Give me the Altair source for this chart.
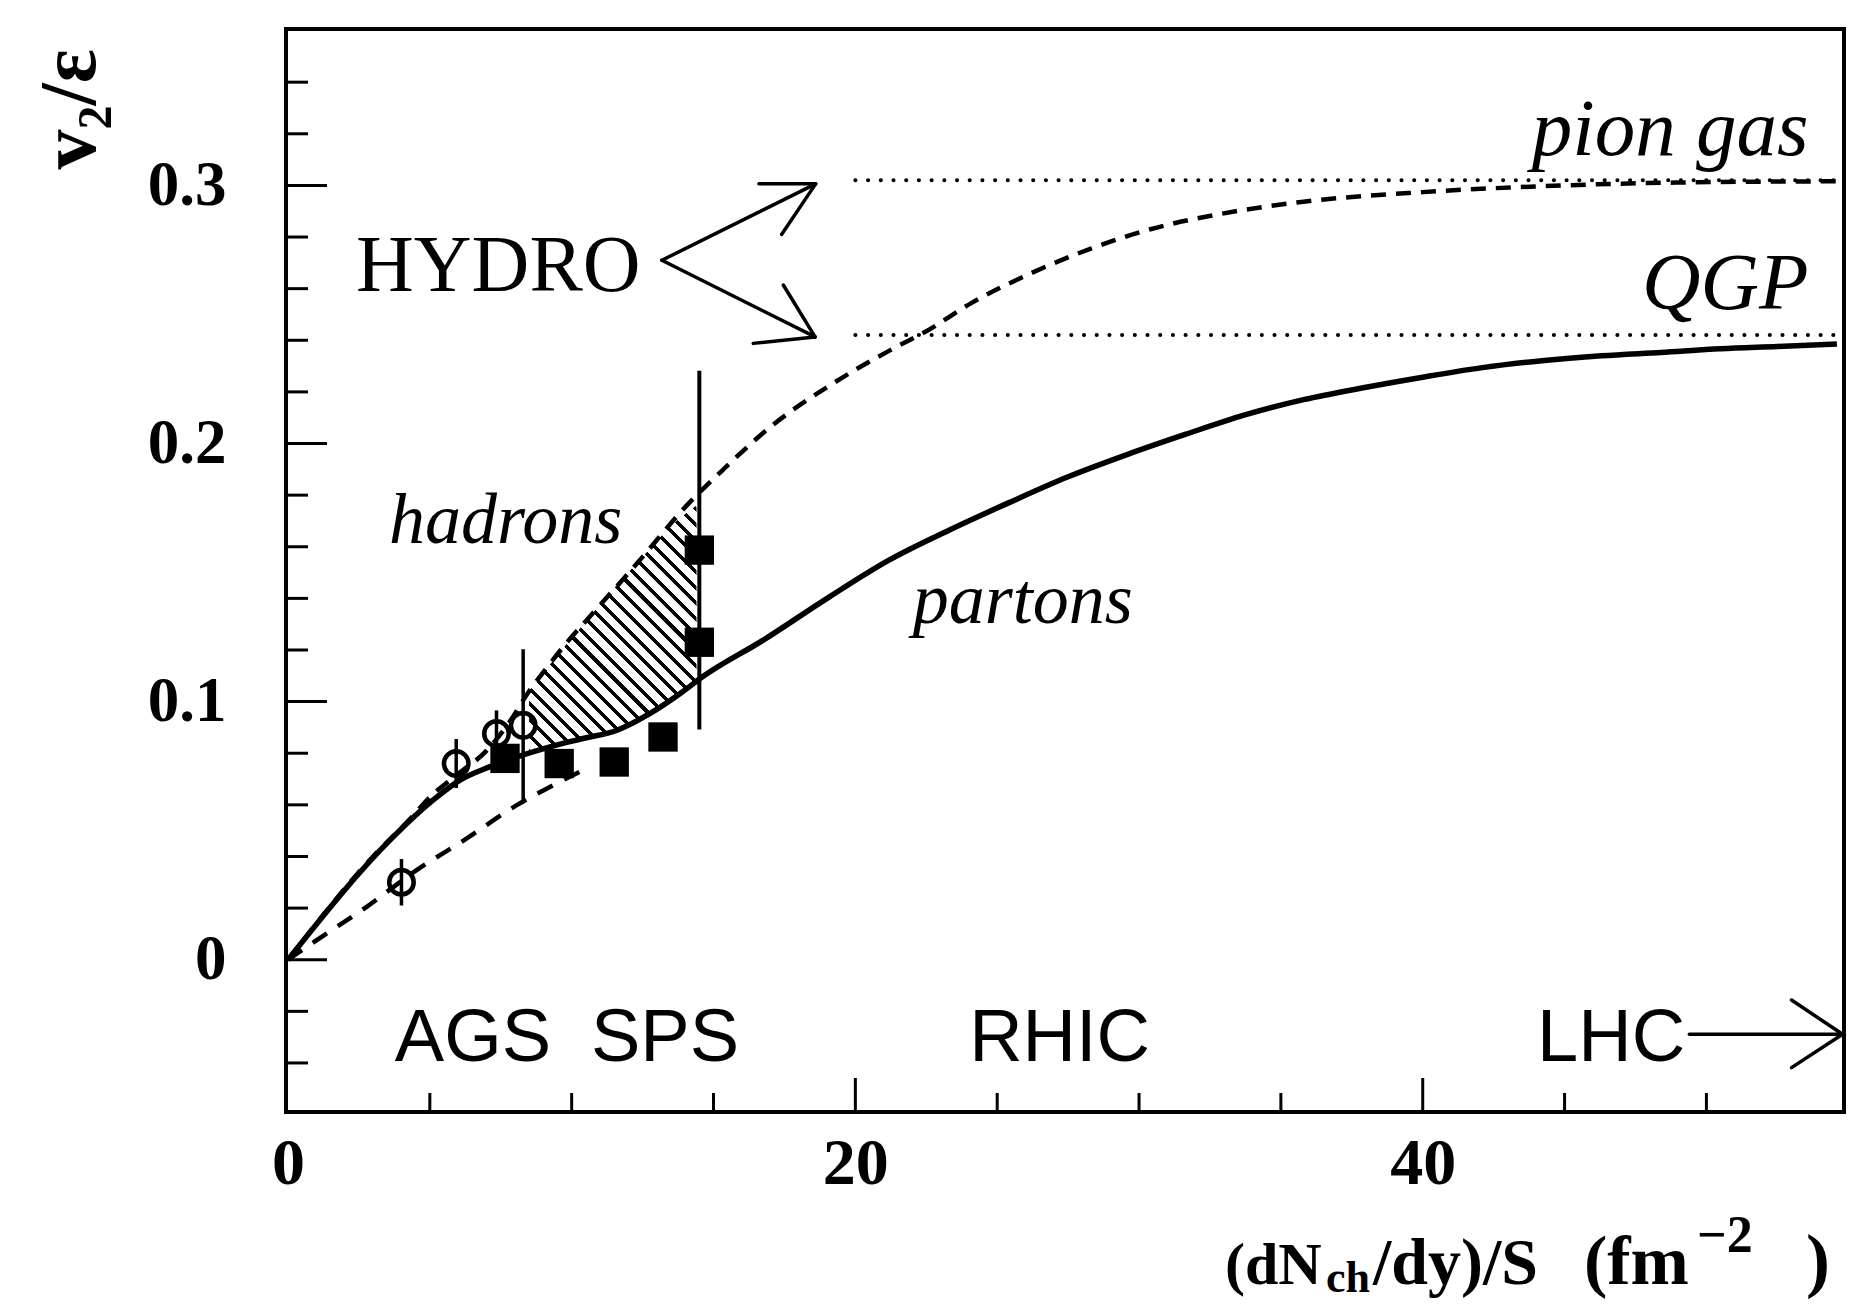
import altair as alt
import pandas as pd

# ---------------- data ----------------
# solid curve "partons"
partons_x = [0, 3.7, 5.1, 6.05, 7.1, 8.05, 9.2, 10.4, 11.6, 12.75, 13.9, 14.6, 16.75, 19.1, 21.2,
             23.3, 25.4, 27.5, 29.6, 31.65, 33.7, 35.8, 37.9, 40.0, 42.1, 44.2, 46.3, 48.4, 50.5, 52.5, 54.6]
partons_y = [0, 0.0475, 0.0617, 0.0695, 0.0747, 0.0785, 0.0824, 0.0857, 0.0889, 0.0953, 0.1037, 0.1095,
             0.1238, 0.1407, 0.1549, 0.1664, 0.177, 0.1871, 0.1958, 0.2036, 0.211, 0.217, 0.2216, 0.2257,
             0.2294, 0.2321, 0.234, 0.2353, 0.2367, 0.2376, 0.2386]

# dashed curve "hadrons" (upper)
hadrons_x = [0, 3.0, 4.3, 5.0, 6.0, 7.0, 7.8, 8.5, 9.1, 9.8, 10.4, 12.3, 14.1, 15.35, 17.0, 19.1, 21.2,
             22.5, 24.1, 26.2, 28.3, 30.4, 32.9, 35.8, 40.0, 44.2, 48.4, 54.6]
hadrons_y = [0, 0.040, 0.0545, 0.063, 0.072, 0.081, 0.092, 0.104, 0.1128, 0.1225, 0.130, 0.1535, 0.1765,
             0.190, 0.2064, 0.2225, 0.236, 0.2435, 0.2545, 0.266, 0.2755, 0.283, 0.289, 0.2937, 0.2974,
             0.2997, 0.301, 0.3016]

# lower dashed curve
low_x = [0, 1.0, 2.76, 4.52, 6.29, 8.05, 9.0, 10.5]
low_y = [0, 0.0075, 0.0204, 0.0346, 0.0469, 0.0598, 0.0656, 0.074]

# hatched band between the curves
hatch_x = [8.5, 9.5, 10.5, 11.5, 12.5, 13.5, 14.4]
hatch_top = [0.104, 0.118, 0.131, 0.144, 0.156, 0.168, 0.176]
hatch_bottom = [0.080, 0.0832, 0.086, 0.0884, 0.0939, 0.1007, 0.1078]

# hydro limits
hydro_names = ["pion gas", "QGP"]
hydro_y = [0.302, 0.242]
hydro_x_start = [20, 20]
hydro_x_end = [54.8, 54.8]

# open circles (AGS)
circ_x = [4.0, 5.93, 7.35, 8.29]
circ_y = [0.030, 0.076, 0.0876, 0.0908]
circ_err = [0.009, 0.0095, 0.009, 0.0295]

# filled squares (SPS)
sq_x = [7.65, 9.56, 11.5, 13.22, 14.5, 14.5]
sq_y = [0.078, 0.076, 0.0766, 0.0863, 0.123, 0.1587]
sq_err = [0, 0, 0, 0, 0, 0.0695]

# axis ticks and labels
x_tick_labels = [0, 20, 40]
y_tick_labels = [0, 0.1, 0.2, 0.3]
x_major_ticks = [20, 40]
x_minor_ticks = [5, 10, 15, 25, 30, 35, 45, 50]
y_major_ticks = [0, 0.1, 0.2, 0.3]
y_minor_ticks = [-0.04, -0.02, 0.02, 0.04, 0.06, 0.08, 0.12, 0.14, 0.16, 0.18,
                 0.22, 0.24, 0.26, 0.28, 0.32, 0.34]

# annotation arrows (data coordinates)
arrow_x1 = [13.18, 18.6, 18.6, 13.18, 18.58, 18.58, 49.4, 53.0, 53.0]
arrow_y1 = [0.271, 0.3006, 0.3006, 0.271, 0.2413, 0.2413, -0.0289, -0.0156, -0.0418]
arrow_x2 = [18.6, 16.6, 17.4, 18.58, 16.4, 17.46, 54.8, 54.8, 54.8]
arrow_y2 = [0.3006, 0.3006, 0.281, 0.2413, 0.2388, 0.2614, -0.0289, -0.0289, -0.0289]

# text labels
machine_names = ["AGS", "SPS", "RHIC"]
machine_x = [6.52, 13.29, 27.2]
machine_y = [-0.0394, -0.0394, -0.0394]
lhc_label = ["LHC"]
lhc_x = [49.25]
lhc_y = [-0.0394]
curve_names = ["hadrons", "partons"]
curve_x = [7.67, 25.9]
curve_y = [0.1614, 0.1306]
limit_names = ["pion gas", "QGP"]
limit_x = [53.6, 53.6]
limit_y = [0.3118, 0.2523]
hydro_label = ["HYDRO"]
hydro_lx = [2.4]
hydro_ly = [0.2592]

# ---------------- layout ----------------
W, H = 1558, 1083
XDOM = [-0.07, 54.85]
YDOM = [-0.059, 0.3606]
SERIF = "Liberation Serif"
SANS = "Liberation Sans"

xs = alt.Scale(domain=XDOM, nice=False, zero=False)
ys = alt.Scale(domain=YDOM, nice=False, zero=False)

x_axis = alt.Axis(
    values=x_tick_labels, format="d", labelFont=SERIF, labelFontWeight="bold",
    labelFontSize=66, labelColor="black", ticks=False, tickSize=0, domain=False,
    grid=False, labelPadding=19, title=None, labelFlush=False)
y_axis = alt.Axis(
    values=y_tick_labels, labelExpr="datum.value == 0 ? '0' : format(datum.value, '.1f')",
    labelFont=SERIF, labelFontWeight="bold", labelFontSize=63, labelColor="black",
    ticks=False, tickSize=0, domain=False, grid=False, labelPadding=60, labelFlush=False,
    title="v₂/ε", titleAngle=270, titleX=-192, titleY=140, titleAlign="left",
    titleBaseline="alphabetic", titleFont=SERIF, titleFontSize=80, titleFontWeight="bold",
    titleColor="black")


def X(f="x"):
    return alt.X(f"{f}:Q", scale=xs, axis=x_axis)


def Y(f="y"):
    return alt.Y(f"{f}:Q", scale=ys, axis=y_axis)


# hatching via striped gradient
px_per_x = W / (XDOM[1] - XDOM[0])
px_per_y = H / (YDOM[1] - YDOM[0])
Wb = (hatch_x[-1] - hatch_x[0]) * px_per_x
Hb = (max(hatch_top) - min(hatch_bottom)) * px_per_y
period = 15.5
N = int(round((Wb * Wb + Hb * Hb) / (Wb * period)))
frac = 0.32
stops = []
for i in range(N):
    a = i / N
    b = (i + frac) / N
    c = (i + 1) / N
    stops += [alt.GradientStop(color="black", offset=a), alt.GradientStop(color="black", offset=b),
              alt.GradientStop(color="rgba(255,255,255,0)", offset=b),
              alt.GradientStop(color="rgba(255,255,255,0)", offset=c)]
grad = alt.LinearGradient(gradient="linear", stops=stops, x1=0, y1=1, x2=1, y2=1 - Hb / Wb)

hatch = alt.Chart(pd.DataFrame({"x": hatch_x, "top": hatch_top, "bot": hatch_bottom})).mark_area(
    color=grad, interpolate="monotone").encode(x=X(), y=Y("top"), y2="bot:Q")

partons = alt.Chart(pd.DataFrame({"x": partons_x, "y": partons_y})).mark_line(
    color="black", strokeWidth=5.5, interpolate="monotone").encode(x=X(), y=Y())

hadrons = alt.Chart(pd.DataFrame({"x": hadrons_x, "y": hadrons_y})).mark_line(
    color="black", strokeWidth=4.5, strokeDash=[15, 10], interpolate="monotone").encode(x=X(), y=Y())

lower = alt.Chart(pd.DataFrame({"x": low_x, "y": low_y})).mark_line(
    color="black", strokeWidth=4.5, strokeDash=[17, 13], interpolate="monotone").encode(x=X(), y=Y())

limits = alt.Chart(pd.DataFrame({"name": hydro_names, "y": hydro_y, "x": hydro_x_start,
                                 "x2": hydro_x_end})).mark_rule(
    color="black", strokeWidth=4, strokeDash=[0.1, 12.6], strokeCap="round").encode(
    x=X(), x2="x2:Q", y=Y())

circ_df = pd.DataFrame({"x": circ_x, "y": circ_y, "err": circ_err})
circ_df["lo"] = circ_df["y"] - circ_df["err"]
circ_df["hi"] = circ_df["y"] + circ_df["err"]
circ_bars = alt.Chart(circ_df).mark_rule(color="black", strokeWidth=3.5).encode(
    x=X(), y=Y("lo"), y2="hi:Q")
circles = alt.Chart(circ_df).mark_point(shape="circle", filled=False, size=600, color="black",
                                        strokeWidth=4.5, opacity=1).encode(x=X(), y=Y())

sq_df = pd.DataFrame({"x": sq_x, "y": sq_y, "err": sq_err})
sq_df["lo"] = sq_df["y"] - sq_df["err"]
sq_df["hi"] = sq_df["y"] + sq_df["err"]
sq_bars = alt.Chart(sq_df[sq_df["err"] > 0]).mark_rule(color="black", strokeWidth=4).encode(
    x=X(), y=Y("lo"), y2="hi:Q")
squares = alt.Chart(sq_df).mark_point(shape="square", filled=True, size=860, color="black",
                                      opacity=1).encode(x=X(), y=Y())

arrows = alt.Chart(pd.DataFrame({"x": arrow_x1, "y": arrow_y1, "x2": arrow_x2, "y2": arrow_y2})).mark_rule(
    color="black", strokeWidth=3.5, strokeCap="round").encode(x=X(), y=Y(), x2="x2:Q", y2="y2:Q")

xticks_major = alt.Chart(pd.DataFrame({"x": x_major_ticks})).mark_rule(color="black", strokeWidth=3).encode(
    x=X(), y=alt.value(H), y2=alt.value(H - 34))
xticks_minor = alt.Chart(pd.DataFrame({"x": x_minor_ticks})).mark_rule(color="black", strokeWidth=3).encode(
    x=X(), y=alt.value(H), y2=alt.value(H - 19))
yticks_major = alt.Chart(pd.DataFrame({"y": y_major_ticks})).mark_rule(color="black", strokeWidth=3).encode(
    y=Y(), x=alt.value(0), x2=alt.value(41))
yticks_minor = alt.Chart(pd.DataFrame({"y": y_minor_ticks})).mark_rule(color="black", strokeWidth=3).encode(
    y=Y(), x=alt.value(0), x2=alt.value(22))

machines = alt.Chart(pd.DataFrame({"t": machine_names, "x": machine_x, "y": machine_y})).mark_text(
    font=SANS, fontSize=74, align="center", baseline="alphabetic", color="black").encode(
    x=X(), y=Y(), text="t:N")
lhc = alt.Chart(pd.DataFrame({"t": lhc_label, "x": lhc_x, "y": lhc_y})).mark_text(
    font=SANS, fontSize=74, align="right", baseline="alphabetic", color="black").encode(
    x=X(), y=Y(), text="t:N")
curves_txt = alt.Chart(pd.DataFrame({"t": curve_names, "x": curve_x, "y": curve_y})).mark_text(
    font=SERIF, fontSize=72, fontStyle="italic", align="center", baseline="alphabetic",
    color="black").encode(x=X(), y=Y(), text="t:N")
limits_txt = alt.Chart(pd.DataFrame({"t": limit_names, "x": limit_x, "y": limit_y})).mark_text(
    font=SERIF, fontSize=81, fontStyle="italic", align="right", baseline="alphabetic",
    color="black").encode(x=X(), y=Y(), text="t:N")
hydro_txt = alt.Chart(pd.DataFrame({"t": hydro_label, "x": hydro_lx, "y": hydro_ly})).mark_text(
    font=SERIF, fontSize=80, align="left", baseline="alphabetic", color="black").encode(
    x=X(), y=Y(), text="t:N")

# x-axis title pieces (sub/superscripts)
OX, OY = 286, 29


def piece(txt, px, py, size):
    return alt.Chart(pd.DataFrame({"t": [txt]})).mark_text(
        font=SERIF, fontWeight="bold", fontSize=size, align="left", baseline="alphabetic",
        color="black").encode(x=alt.value(px - OX), y=alt.value(py - OY), text="t:N")


xtitle = [
    piece("(dN", 1225, 1284, 60),
    piece("ch", 1326, 1292, 44),
    piece("/dy)/S", 1373, 1284, 66),
    piece("(fm", 1584, 1284, 70),
    piece("\u22122", 1697, 1252, 52),
    piece(")", 1806, 1284, 72),
]

chart = alt.layer(
    hatch, lower, hadrons, partons, limits, circ_bars, sq_bars, circles, squares,
    arrows, xticks_major, xticks_minor, yticks_major, yticks_minor,
    machines, lhc, curves_txt, limits_txt, hydro_txt, *xtitle
).properties(
    width=W, height=H,
    padding={"left": OX, "top": OY, "right": 1859 - OX - W, "bottom": 1305 - OY - H},
    autosize=alt.AutoSizeParams(type="none"),
    background="white",
).configure_view(stroke="black", strokeWidth=4)

chart.save("out.html", embed_options={"renderer": "svg", "actions": False})
